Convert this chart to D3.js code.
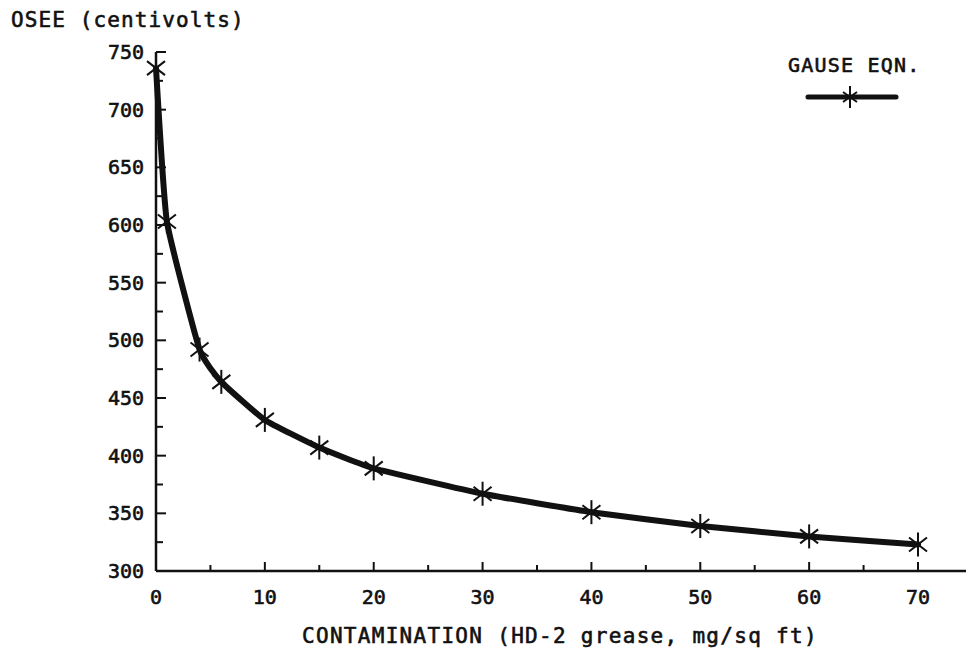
<!DOCTYPE html>
<html><head><meta charset="utf-8">
<script src="https://cdn.jsdelivr.net/npm/d3@7"></script>
<style>
body{margin:0;background:#fff;}
text{font-family:"DejaVu Sans Mono","Liberation Mono",monospace;fill:#111;stroke:#111;stroke-width:0.6px;}
</style></head>
<body><svg id="c" width="967" height="651"></svg>
<script>
const contamination = [0, 1, 4, 6, 10, 15, 20, 30, 40, 50, 60, 70];
const osee = [736, 603, 492, 464, 431, 407, 389, 367, 351, 339, 330, 323];
const xTicks = [0, 10, 20, 30, 40, 50, 60, 70];
const yTicks = [300, 350, 400, 450, 500, 550, 600, 650, 700, 750];
const yLabel = "OSEE (centivolts)";
const xLabel = "CONTAMINATION (HD-2 grease, mg/sq ft)";
const legendLabel = "GAUSE EQN.";

const svg = d3.select("#c");
const x = d3.scaleLinear().domain([0, 70]).range([156, 918]);
const y = d3.scaleLinear().domain([300, 750]).range([571, 52]);

// axes
const g = svg.append("g");
g.append("line").attr("x1", x(0)).attr("x2", 966).attr("y1", y(300)).attr("y2", y(300))
  .attr("stroke", "#111").attr("stroke-width", 2.5);
g.append("line").attr("x1", x(0)).attr("x2", x(0)).attr("y1", y(300)).attr("y2", y(750))
  .attr("stroke", "#111").attr("stroke-width", 2.5);

// y ticks (major + minor), pointing into plot
d3.range(300, 751, 25).forEach(v => {
  const major = v % 50 === 0;
  g.append("line").attr("x1", x(0)).attr("x2", x(0) + (major ? 10 : 7))
    .attr("y1", y(v)).attr("y2", y(v)).attr("stroke", "#111").attr("stroke-width", 2);
});
// x ticks
d3.range(5, 71, 5).forEach(v => {
  const major = v % 10 === 0;
  g.append("line").attr("x1", x(v)).attr("x2", x(v))
    .attr("y1", y(300)).attr("y2", y(300) - (major ? 9 : 6)).attr("stroke", "#111").attr("stroke-width", 2);
});

g.selectAll("text.yt").data(yTicks).join("text").attr("class", "yt")
  .attr("x", x(0) - 12).attr("y", d => y(d) + 7).attr("text-anchor", "end")
  .attr("font-size", 20).text(d => d);
g.selectAll("text.xt").data(xTicks).join("text").attr("class", "xt")
  .attr("x", d => x(d)).attr("y", 604).attr("text-anchor", "middle")
  .attr("font-size", 20).text(d => d);

svg.append("text").attr("x", 11).attr("y", 27).attr("font-size", 21)
  .attr("letter-spacing", 1.1).text(yLabel);
svg.append("text").attr("x", 302).attr("y", 643).attr("font-size", 21)
  .attr("letter-spacing", 1.3).text(xLabel);

// curve
const pts = contamination.map((c, i) => [c, osee[i]]);
const line = d3.line().x(d => x(d[0])).y(d => y(d[1])).curve(d3.curveCardinal.tension(0.6));
svg.append("path").attr("d", line(pts)).attr("fill", "none").attr("stroke", "#111")
  .attr("stroke-width", 6).attr("stroke-linejoin", "round").attr("stroke-linecap", "round");

function star(sel, cx, cy) {
  const gg = sel.append("g").attr("transform", `translate(${cx},${cy})`)
    .attr("stroke", "#111").attr("stroke-width", 2);
  gg.append("line").attr("x1", 0).attr("x2", 0).attr("y1", -12).attr("y2", 12);
  gg.append("line").attr("x1", -9).attr("x2", 9).attr("y1", -7).attr("y2", 7);
  gg.append("line").attr("x1", -9).attr("x2", 9).attr("y1", 7).attr("y2", -7);
}
pts.forEach(d => star(svg, x(d[0]), y(d[1])));

// legend
svg.append("text").attr("x", 788).attr("y", 72).attr("font-size", 20)
  .attr("letter-spacing", 1.2).text(legendLabel);
svg.append("line").attr("x1", 808).attr("x2", 896).attr("y1", 97).attr("y2", 97)
  .attr("stroke", "#111").attr("stroke-width", 5).attr("stroke-linecap", "round");
const lg = svg.append("g").attr("transform", "translate(850,97)").attr("stroke", "#111").attr("stroke-width", 2);
lg.append("line").attr("x1", 0).attr("x2", 0).attr("y1", -11).attr("y2", 11);
lg.append("line").attr("x1", -7).attr("x2", 7).attr("y1", -5).attr("y2", 5);
lg.append("line").attr("x1", -7).attr("x2", 7).attr("y1", 5).attr("y2", -5);
</script></body></html>
